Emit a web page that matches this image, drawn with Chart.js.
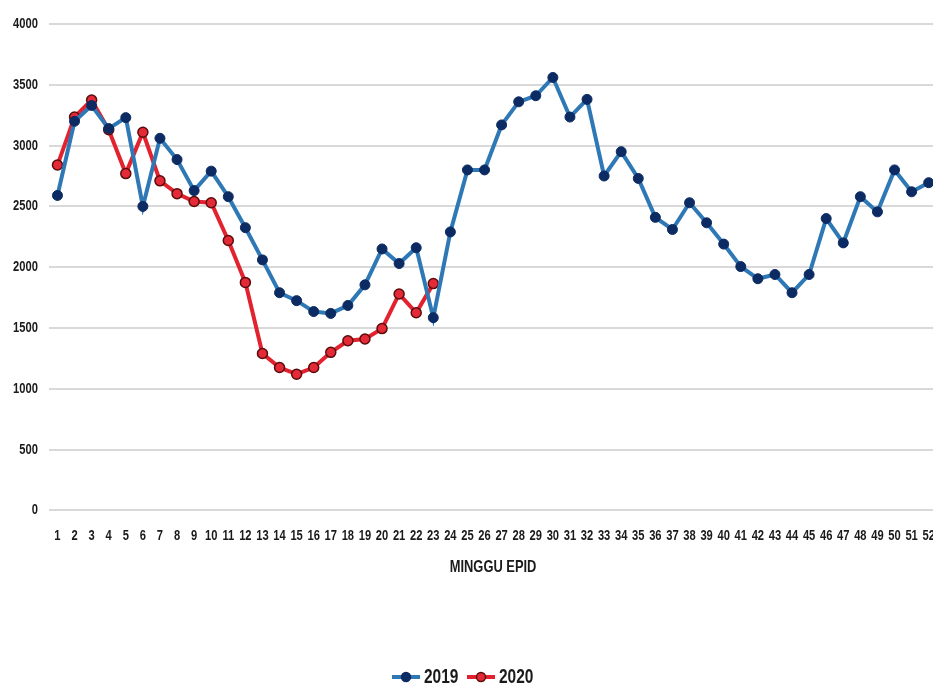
<!DOCTYPE html>
<html>
<head>
<meta charset="utf-8">
<script src="https://cdn.jsdelivr.net/npm/chart.js@4.4.1/dist/chart.umd.min.js"></script>
<style>
  html, body { margin: 0; padding: 0; background: #ffffff; overflow: hidden; }
  #wrap { width: 933px; height: 686px; overflow: hidden; }
  #chart { display: block; margin-left: -2px; }
</style>
</head>
<body>
<div id="wrap"><canvas id="chart" width="948" height="696"></canvas></div>
<script>
// Epidemiological weeks 1..52
const weeks = Array.from({ length: 52 }, (_, i) => String(i + 1));

// Weekly counts, 2019 (full year)
const cases2019 = [
  2590, 3200, 3330, 3140, 3230, 2500, 3060, 2885, 2630, 2790,
  2580, 2325, 2060, 1790, 1725, 1635, 1620, 1685, 1855, 2150,
  2030, 2160, 1585, 2290, 2800, 2800, 3170, 3360, 3410, 3560,
  3235, 3380, 2750, 2950, 2730, 2410, 2310, 2530, 2365, 2190,
  2005, 1905, 1940, 1790, 1940, 2400, 2200, 2580, 2455, 2800,
  2620, 2695
];

// Weekly counts, 2020 (weeks 1..23)
const cases2020 = [
  2840, 3235, 3375, 3130, 2770, 3110, 2710, 2605, 2540, 2530,
  2220, 1875, 1290, 1175, 1120, 1175, 1300, 1395, 1410, 1495,
  1780, 1625, 1865
];

const yTicks = [0, 500, 1000, 1500, 2000, 2500, 3000, 3500, 4000];

const FONT = "'Liberation Sans', Arial, sans-serif";

const style2019 = { line: '#2e78b6', fill: '#0c2b63', edge: '#0c2b63' };
const style2020 = { line: '#e2232f', fill: '#e42a36', edge: '#5a0c0c' };

// Small line-with-marker swatch used in the legend
function swatch(s) {
  const c = document.createElement('canvas');
  c.width = 28; c.height = 12;
  const g = c.getContext('2d');
  g.strokeStyle = s.line; g.lineWidth = 4;
  g.beginPath(); g.moveTo(0, 6); g.lineTo(28, 6); g.stroke();
  g.fillStyle = s.fill; g.strokeStyle = s.edge; g.lineWidth = 1.5;
  g.beginPath(); g.arc(14, 6, 4.5, 0, Math.PI * 2); g.fill(); g.stroke();
  return c;
}

// Narrow, tall lettering: every label is drawn squeezed horizontally
const narrowText = {
  id: 'narrowText',
  beforeInit(chart) {
    const ctx = chart.ctx;
    const orig = ctx.fillText;
    ctx.fillText = function (t, x, y, mw) {
      this.save();
      this.translate(x, y);
      this.scale(0.86, 1.12);
      orig.call(this, t, 0, 0);
      this.restore();
    };
  }
};

new Chart(document.getElementById('chart'), {
  type: 'line',
  data: {
    labels: weeks,
    datasets: [
      {
        label: '2019',
        data: cases2019,
        borderColor: style2019.line,
        borderWidth: 4,
        pointRadius: 5,
        pointBackgroundColor: style2019.fill,
        pointBorderColor: style2019.edge,
        pointBorderWidth: 1,
        tension: 0
      },
      {
        label: '2020',
        data: cases2020,
        borderColor: style2020.line,
        borderWidth: 4,
        pointRadius: 5,
        pointBackgroundColor: style2020.fill,
        pointBorderColor: style2020.edge,
        pointBorderWidth: 1.5,
        tension: 0
      }
    ]
  },
  plugins: [narrowText],
  options: {
    responsive: false,
    animation: false,
    layout: { padding: { top: 24, left: 0, right: 8, bottom: 0 } },
    plugins: {
      tooltip: { enabled: false },
      legend: {
        position: 'bottom',
        labels: {
          usePointStyle: true,
          color: '#1a1a1a',
          font: { family: FONT, size: 18, weight: 'bold' },
          padding: 8,
          generateLabels: (chart) => chart.data.datasets.map((ds, i) => ({
            text: ds.label,
            datasetIndex: i,
            pointStyle: swatch(i === 0 ? style2019 : style2020),
            fontColor: '#1a1a1a',
            lineWidth: 0,
            hidden: false
          }))
        }
      }
    },
    scales: {
      x: {
        offset: true,
        grid: { display: false },
        border: { display: false },
        ticks: {
          autoSkip: false,
          maxRotation: 0,
          padding: 10,
          color: '#1a1a1a',
          font: { family: FONT, size: 13, weight: 'bold' }
        },
        title: {
          display: true,
          text: 'MINGGU EPID',
          color: '#1a1a1a',
          font: { family: FONT, size: 15, weight: 'bold' },
          padding: { top: 4, bottom: 84 }
        }
      },
      y: {
        min: 0,
        max: 4000,
        afterBuildTicks: (axis) => { axis.ticks = yTicks.map(v => ({ value: v })); },
        grid: { color: '#d9d9d9', lineWidth: 2, drawTicks: false },
        border: { display: false },
        ticks: {
          padding: 11,
          color: '#1a1a1a',
          font: { family: FONT, size: 13, weight: 'bold' },
          callback: (v) => String(v)
        }
      }
    }
  }
});
</script>
</body>
</html>
